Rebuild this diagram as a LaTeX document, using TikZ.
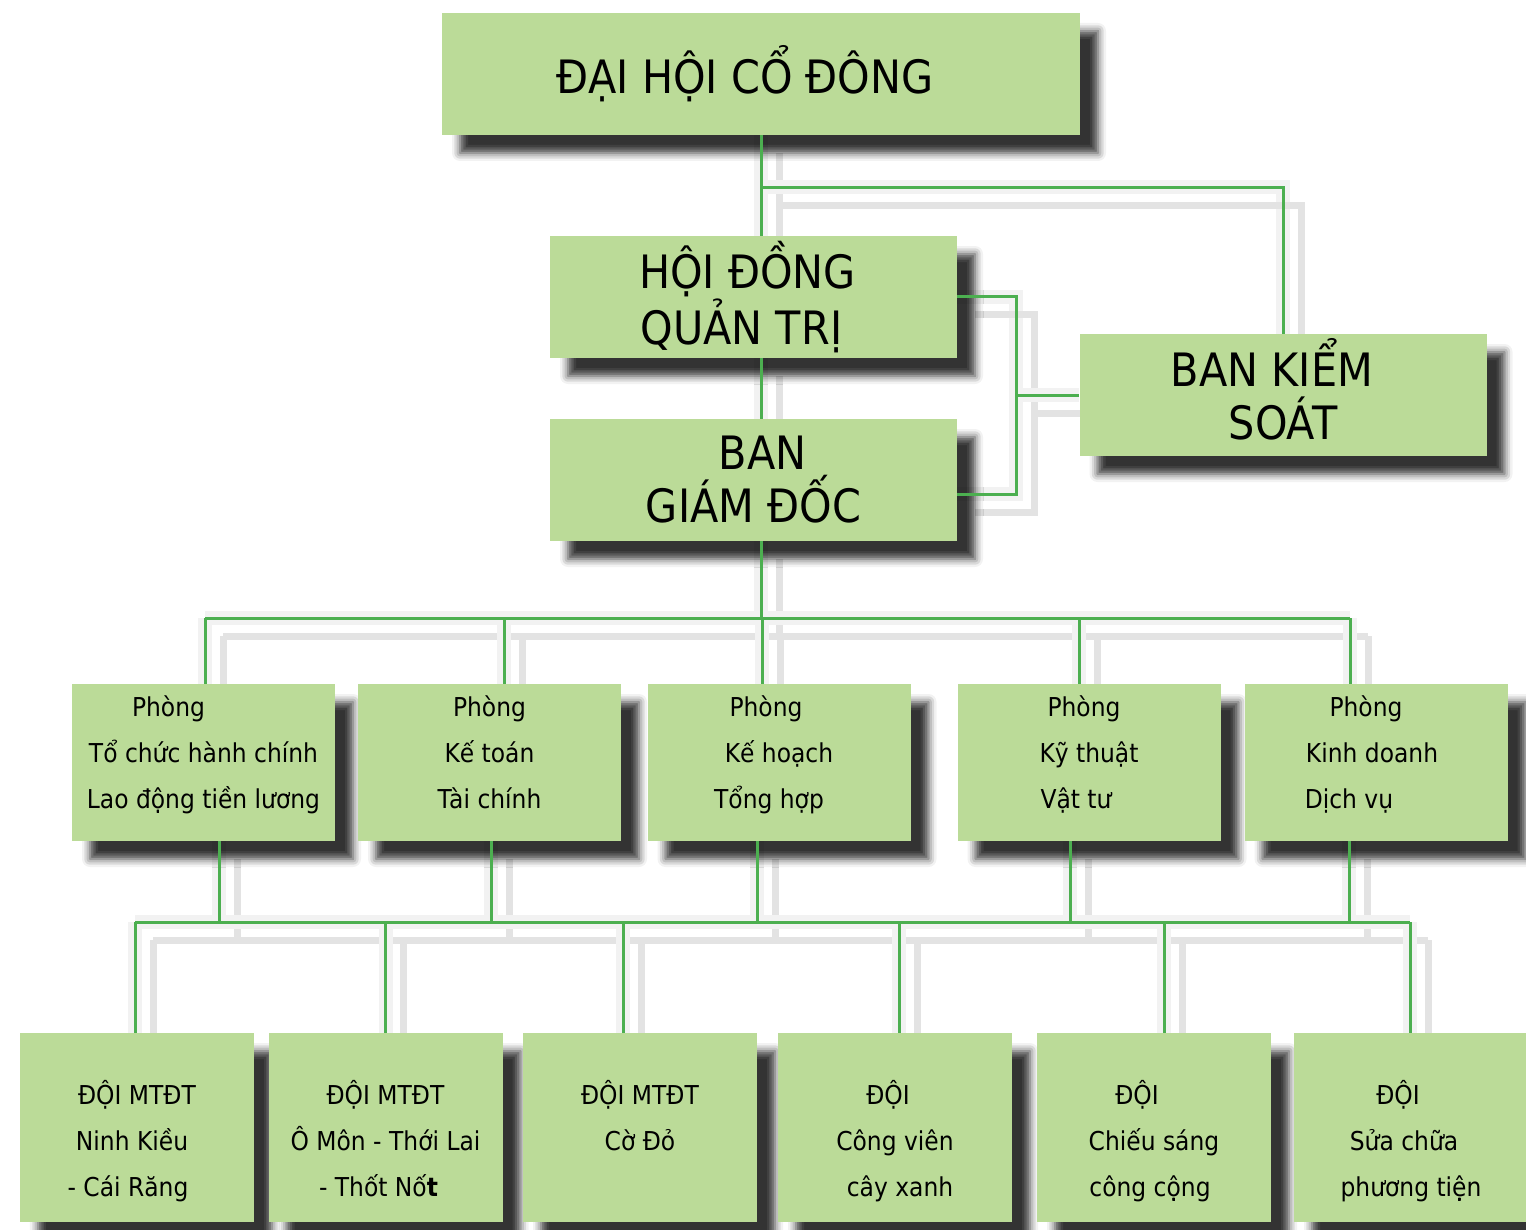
\documentclass[tikz,border=0pt]{standalone}
\usepackage{fontspec}
\setmainfont[FakeStretch=0.9]{DejaVu Sans}
\usetikzlibrary{positioning,shadows.blur,backgrounds}
\definecolor{boxgreen}{RGB}{187,219,152}
\definecolor{linegreen}{RGB}{76,175,80}
\tikzstyle{board} = [fill=boxgreen,inner sep=0,minimum width=203.5pt,minimum height=61pt,align=center,font=\fontsize{23}{26.5}\selectfont,blur shadow={shadow xshift=9pt,shadow yshift=-9pt,shadow blur radius=4pt,shadow opacity=80}]
\tikzstyle{dept} = [board,minimum width=131.5pt,minimum height=78.5pt,font=\fontsize{13}{23}\selectfont]
\tikzstyle{team} = [dept,minimum width=117pt,minimum height=94.5pt]
\tikzstyle{link} = [draw=linegreen,line width=1.5pt]
\tikzstyle{linkshade} = [draw=black!11,line width=3.5pt,transform canvas={shift={(9pt,-9pt)}},preaction={draw=black!5,line width=7pt}]
\def \dtop {\rule{0pt}{12pt}}
\def \dbot {\rule[-12pt]{0pt}{0pt}}
\def \ttop {\rule{0pt}{30pt}}
\def \tbot {\rule[-7.5pt]{0pt}{0pt}}
\newcommand\orgLinks[1]{%
  \draw[#1] (dhcd.south) -- (dhcd.south |- hdqt.north);
  \draw[#1] (dhcd.south) ++(0,52) -| (bks.north);
  \draw[#1] (dhcd.south |- hdqt.south) -- (dhcd.south |- bgd.north);
  \draw[#1] (hdqt.east) -- ++(59,0) |- ([yshift=-7pt]bgd.east);
  \draw[#1] (bks.west) -- ++(-64,0);
  % directors to departments
  \draw[#1] (dhcd.south |- bgd.south) -- ++(0,77) coordinate (bus1);
  \draw[#1] ([xshift=0.75pt]p1.north |- bus1) -- ([xshift=-13pt]p5.north |- bus1);
  \foreach \n/\dx in {p1/0.75,p2/7.25,p3/-8.5,p4/-5,p5/-13}
    \draw[#1] ([xshift=\dx pt]\n.north |- bus1) -- ([xshift=\dx pt]\n.north);
  % departments to teams
  \path (p1.south) ++(0,81) coordinate (bus2);
  \foreach \n/\dx in {p1/7.75,p2/0.75,p3/-11,p4/-9.5,p5/-13.5}
    \draw[#1] ([xshift=\dx pt]\n.south) -- ([xshift=\dx pt]\n.south |- bus2);
  \draw[#1] ([xshift=-1pt]d1.north |- bus2) -- ([xshift=-0.5pt]d6.north |- bus2);
  \foreach \n/\dx in {d1/-1,d2/0,d3/-8.5,d4/2,d5/5,d6/-0.5}
    \draw[#1] ([xshift=\dx pt]\n.north |- bus2) -- ([xshift=\dx pt]\n.north);
}

\begin{document}
\begin{tikzpicture}[x=0.5pt,y=-0.5pt]
  \useasboundingbox (0,0) rectangle (1526,1230);
  \node[board,minimum width=319pt] (dhcd) at (761,74) {\hspace*{-16pt}ĐẠI HỘI CỔ ĐÔNG};
  \node[board] (hdqt) at (753.5,297) {\hspace*{-6pt}HỘI ĐỒNG\\\hspace*{-12pt}QUẢN TRỊ};
  \node[board] (bgd) at (753.5,480) {\hspace*{9pt}BAN\\GIÁM ĐỐC};
  \node[board] (bks) at (1283,395) {\hspace*{-11pt}BAN KIỂM\\SOÁT\rule[-6pt]{0pt}{0pt}};
  % departments
  \node[dept] (p1) at (203.5,762.5) {\dtop\hspace*{-35pt}Phòng\\Tổ chức hành chính\\Lao động tiền lương\dbot};
  \node[dept] (p2) at (489.5,762.5) {\dtop Phòng\\Kế toán\\Tài chính\dbot};
  \node[dept] (p3) at (779,762.5) {\dtop\hspace*{-13pt}Phòng\\Kế hoạch\\\hspace*{-10pt}Tổng hợp\dbot};
  \node[dept] (p4) at (1089,762.5) {\dtop\hspace*{-5pt}Phòng\\Kỹ thuật\\\hspace*{-13pt}Vật tư\dbot};
  \node[dept] (p5) at (1376,762.5) {\dtop\hspace*{-10pt}Phòng\\\hspace*{-4pt}Kinh doanh\\\hspace*{-27pt}Dịch vụ\dbot};
  % teams
  \node[team] (d1) at (137,1127.5) {\ttop ĐỘI MTĐT\\\hspace*{-5pt}Ninh Kiều\\\hspace*{-9pt}- Cái Răng\tbot};
  \node[team] (d2) at (385.5,1127.5) {\ttop ĐỘI MTĐT\\Ô Môn - Thới Lai\\\hspace*{-7pt}- Thốt Nố\textbf{t}\tbot};
  \node[team] (d3) at (640,1127.5) {\ttop ĐỘI MTĐT\\Cờ Đỏ\\\tbot};
  \node[team] (d4) at (895,1127.5) {\ttop\hspace*{-7pt}ĐỘI\\Công viên\\\hspace*{5pt}cây xanh\tbot};
  \node[team] (d5) at (1154,1127.5) {\ttop\hspace*{-17pt}ĐỘI\\Chiếu sáng\\\hspace*{-4pt}công cộng\tbot};
  \node[team] (d6) at (1411,1127.5) {\ttop\hspace*{-13pt}ĐỘI\\\hspace*{-7pt}Sửa chữa\\phương tiện\tbot};
  \begin{pgfonlayer}{background}
    \orgLinks{linkshade}
  \end{pgfonlayer}
  \orgLinks{link}
\end{tikzpicture}
\end{document}
